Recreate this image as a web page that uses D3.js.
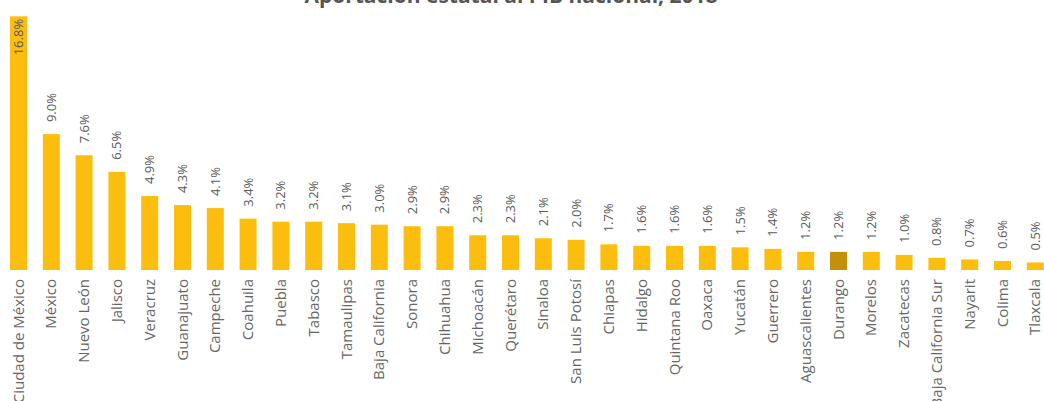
<!DOCTYPE html>
<html>
<head>
<meta charset="utf-8">
<script src="https://cdn.jsdelivr.net/npm/d3@7"></script>
<style>
html, body { margin: 0; padding: 0; background: #fff; overflow: hidden; }
svg { display: block; }
</style>
</head>
<body>
<svg id="chart" width="1044" height="401"></svg>
<script>
const title = "Aportación estatal al PIB nacional, 2018";
const states = ["Ciudad de México","México","Nuevo León","Jalisco","Veracruz","Guanajuato","Campeche","Coahuila","Puebla","Tabasco","Tamaulipas","Baja California","Sonora","Chihuahua","Michoacán","Querétaro","Sinaloa","San Luis Potosí","Chiapas","Hidalgo","Quintana Roo","Oaxaca","Yucatán","Guerrero","Aguascalientes","Durango","Morelos","Zacatecas","Baja California Sur","Nayarit","Colima","Tlaxcala"];
const shares = [16.8,9.0,7.6,6.5,4.9,4.3,4.1,3.4,3.2,3.2,3.1,3.0,2.9,2.9,2.3,2.3,2.1,2.0,1.7,1.6,1.6,1.6,1.5,1.4,1.2,1.2,1.2,1.0,0.8,0.7,0.6,0.5];
const highlighted = ["Durango"];

const svg = d3.select("#chart");
const baseY = 270;

const x = d3.scaleBand().domain(states).range([2.1, 1051.7]).paddingInner(0.482).paddingOuter(0.241);
const y = d3.scaleLinear().domain([0, 17]).range([baseY, baseY - 17 * 15.1]);

svg.append("text")
  .attr("x", 511).attr("y", 3)
  .attr("text-anchor", "middle")
  .attr("font-family", "'Open Sans', sans-serif")
  .attr("font-weight", "bold")
  .attr("font-size", 21)
  .attr("fill", "#555")
  .text(title);

const data = states.map((s, i) => ({ s, v: shares[i] }));

svg.append("g").selectAll("rect").data(data).join("rect")
  .attr("x", d => x(d.s))
  .attr("width", x.bandwidth())
  .attr("y", d => Math.max(12, y(d.v)))
  .attr("height", d => baseY - Math.max(12, y(d.v)))
  .attr("fill", d => highlighted.includes(d.s) ? "#C3900B" : "#FBBE0F");

const fmt = v => v.toFixed(1) + "%";

svg.append("g").selectAll("text").data(data).join("text")
  .attr("transform", d => {
    const cx = x(d.s) + x.bandwidth() / 2 + 4.5;
    const top = Math.max(12, y(d.v));
    const yy = top < 60 ? top + 39 : top - 12;
    return `translate(${cx},${yy}) rotate(-90)`;
  })
  .attr("text-anchor", "start")
  .attr("font-family", "'Open Sans', sans-serif")
  .attr("font-size", 13)
  .attr("fill", "#5a5a5a")
  .text(d => fmt(d.v));

const xAxis = d3.axisBottom(x).tickSize(0).tickPadding(0);
const gx = svg.append("g").attr("transform", `translate(0,${baseY})`).call(xAxis);
gx.select(".domain").remove();
gx.selectAll(".tick text")
  .attr("transform", "translate(5,9) rotate(-90)")
  .attr("dy", 0)
  .attr("y", 0)
  .attr("x", 0)
  .attr("text-anchor", "end")
  .attr("font-family", "'Open Sans', sans-serif")
  .attr("font-size", 15)
  .attr("fill", "#666");
</script>
</body>
</html>
